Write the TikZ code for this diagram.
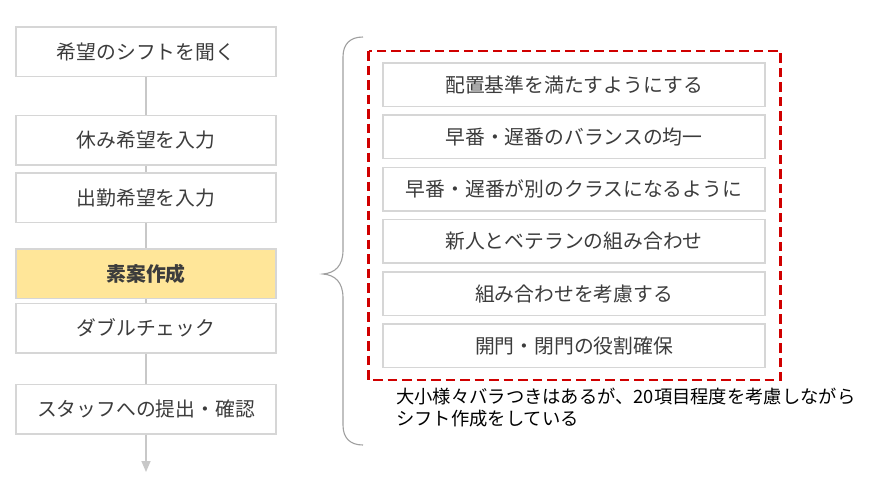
\documentclass[tikz,border=0pt]{standalone}
\usepackage{fontspec}
\setmainfont{Noto Sans CJK JP}
\usetikzlibrary{arrows.meta}
\definecolor{boxline}{HTML}{D6D6D6}
\definecolor{txt}{HTML}{3C3C3C}
\definecolor{conn}{HTML}{C8C8C8}
\definecolor{hilite}{HTML}{FFE699}
\definecolor{redframe}{HTML}{D00000}
\definecolor{bracec}{HTML}{A0A0A0}
\tikzset{
  stepbox/.style={draw=boxline, line width=1.5pt, fill=white, minimum width=260pt, minimum height=49.5pt, inner sep=0pt, text=txt, font=\fontsize{19.8}{22}\selectfont},
  itembox/.style={draw=boxline, line width=1.5pt, fill=white, minimum width=382pt, minimum height=43.5pt, inner sep=0pt, text=txt, font=\fontsize{19.8}{22}\selectfont},
  flowline/.style={draw=conn, line width=1.5pt},
  dashframe/.style={draw=redframe, line width=2.8pt, dash pattern=on 9.5pt off 5pt},
  bracepath/.style={draw=bracec, line width=1.1pt},
}
\begin{document}
\begin{tikzpicture}[x=1pt,y=-1pt]
\useasboundingbox[fill=white] (0,0) rectangle (869,483);
% left flow
\node[stepbox] (b1) at (146,51.5) {希望のシフトを聞く};
\node[stepbox] (b2) at (146,140) {休み希望を入力};
\node[stepbox] (b3) at (146,197.5) {出勤希望を入力};
\node[stepbox, fill=hilite] (b4) at (146,273.5) {\textbf{素案作成}};
\node[stepbox] (b5) at (146,328) {ダブルチェック};
\node[stepbox] (b6) at (146,409) {スタッフへの提出・確認};
\coordinate (end) at (146,472);
\draw[flowline] (b1.south) -- (b2.north);
\draw[flowline] (b2.south) -- (b3.north);
\draw[flowline] (b3.south) -- (b4.north);
\draw[flowline] (b4.south) -- (b5.north);
\draw[flowline] (b5.south) -- (b6.north);
\draw[flowline, -{Triangle[width=9pt,length=11pt]}, fill=conn] (b6.south) -- (end);
% brace
\draw[bracepath] (363,37) .. controls (350,37) and (343,44) .. (343,57)
  -- (343,250) .. controls (343,266) and (335,273) .. (323,274)
  .. controls (335,275) and (343,282) .. (343,298)
  -- (343,425) .. controls (343,438) and (350,445) .. (363,445);
% right items
\node[itembox] (r1) at (574,84.5) {配置基準を満たすようにする};
\node[itembox] (r2) at (574,136.5) {早番・遅番のバランスの均一};
\node[itembox] (r3) at (574,189) {早番・遅番が別のクラスになるように};
\node[itembox] (r4) at (574,241) {新人とベテランの組み合わせ};
\node[itembox] (r5) at (574,293.5) {組み合わせを考慮する};
\node[itembox] (r6) at (574,345.5) {開門・閉門の役割確保};
\draw[dashframe] (368.5,51) rectangle (780.5,380);
\node[anchor=north west, inner sep=0pt, align=left, text=black, font=\fontsize{18.3}{22}\selectfont] (note) at (396,388) {大小様々バラつきはあるが、20項目程度を考慮しながら\\シフト作成をしている};
\end{tikzpicture}
\end{document}
